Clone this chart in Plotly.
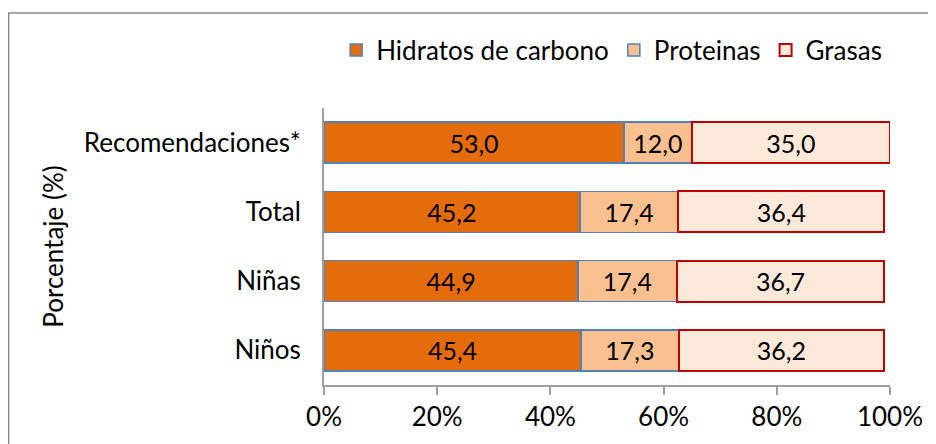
import plotly.graph_objects as go

# %% data
grupos = ["Niños", "Niñas", "Total", "Recomendaciones*"]
hidratos = [45.4, 44.9, 45.2, 53.0]
proteinas = [17.3, 17.4, 17.4, 12.0]
grasas = [36.2, 36.7, 36.4, 35.0]

x_ticks = [0, 20, 40, 60, 80, 100]
x_ticktext = ["0%", "20%", "40%", "60%", "80%", "100%"]

fuente = "Lato"
fs = 26

# %% figure
fig = go.Figure()
series = [
    ("Hidratos de carbono", hidratos, "#E46C0A", "#4F81BD", 1.5),
    ("Proteinas", proteinas, "#FAC090", "#4F81BD", 1.5),
    ("Grasas", grasas, "#FDE9D9", "#C00000", 2),
]
for nombre, vals, color, borde, ancho in series:
    fig.add_trace(go.Bar(
        y=grupos, x=vals, name=nombre, orientation="h",
        marker=dict(color=color, line=dict(color=borde, width=ancho)),
        texttemplate="%{x:.1f}", textposition="inside",
        insidetextanchor="middle", textangle=0, constraintext="none",
        textfont=dict(family=fuente, size=25, color="black"),
    ))

# page body has an 8px margin, so the figure is a bit smaller than the window
fig.update_layout(
    barmode="stack", bargap=0.41, separators=",.",
    width=928, height=436,
    margin=dict(l=316, r=46, t=100, b=59),
    paper_bgcolor="white", plot_bgcolor="white",
    font=dict(family=fuente, size=fs, color="black"),
    legend=dict(orientation="h", x=0.995, xanchor="right", y=1.209, yanchor="middle",
                font=dict(family=fuente, size=fs), traceorder="normal"),
    showlegend=True,
)
fig.update_xaxes(range=[0, 100], tickvals=x_ticks, ticktext=x_ticktext,
                 showgrid=False, zeroline=False,
                 showline=True, linecolor="#A0A0A0", linewidth=2,
                 ticks="outside", ticklen=8, tickcolor="#A0A0A0", tickwidth=2,
                 tickfont=dict(family=fuente, size=fs))
fig.update_yaxes(categoryorder="array", categoryarray=grupos,
                 showgrid=False, showline=True, linecolor="#A0A0A0", linewidth=2,
                 ticks="", ticklabelstandoff=16,
                 tickfont=dict(family=fuente, size=fs),
                 title=dict(text="Porcentaje (%)", font=dict(family=fuente, size=fs), standoff=13))

# outer chart border
fig.add_shape(type="rect", xref="paper", yref="paper",
              x0=-0.557, x1=1.1, y0=-0.24, y1=1.343,
              line=dict(color="#8C8C8C", width=1.5), fillcolor="rgba(0,0,0,0)")

fig.write_html("out.html")
